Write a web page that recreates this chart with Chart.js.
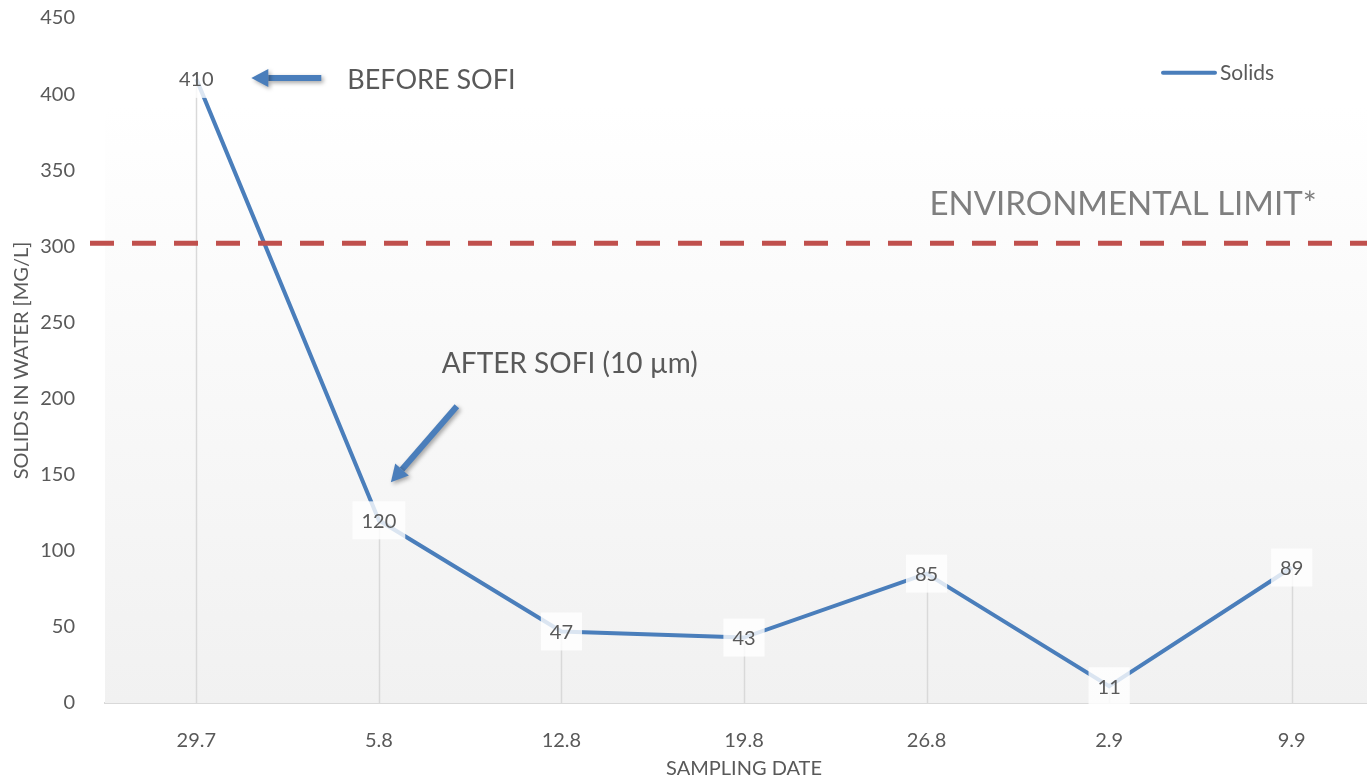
<!DOCTYPE html>
<html>
<head>
<meta charset="utf-8">
<script src="https://cdn.jsdelivr.net/npm/chart.js@4.4.1/dist/chart.umd.min.js"></script>
<style>
  html, body { margin: 0; padding: 0; background: #fff; overflow: hidden; }
  #wrap { width: 1383px; height: 781px; position: relative; }
</style>
</head>
<body>
<div id="wrap"><canvas id="solidsChart"></canvas></div>
<script>
// ── Data ────────────────────────────────────────────────────
const samplingDates = ['29.7', '5.8', '12.8', '19.8', '26.8', '2.9', '9.9'];
const solidsValues  = [410, 120, 47, 43, 85, 11, 89];
const yRange        = [0, 450];
const yStep         = 50;
const limitValue    = 302;

const FONT  = "Lato, 'Open Sans', sans-serif";
const BLUE  = '#4a7ebb';
const TEXT  = '#595959';

Chart.defaults.font.family = FONT;
Chart.defaults.color = TEXT;

// arrow with soft shadow
function drawArrow(ctx, x1, y1, x2, y2) {
  const ang = Math.atan2(y2 - y1, x2 - x1);
  const head = 17, half = 9;
  const bx = x2 - Math.cos(ang) * head, by = y2 - Math.sin(ang) * head;
  ctx.save();
  ctx.shadowColor = 'rgba(0,0,0,0.35)';
  ctx.shadowBlur = 4;
  ctx.shadowOffsetX = 2;
  ctx.shadowOffsetY = 2;
  ctx.strokeStyle = BLUE;
  ctx.fillStyle = BLUE;
  ctx.lineWidth = 6;
  ctx.beginPath();
  ctx.moveTo(x1, y1);
  ctx.lineTo(bx, by);
  ctx.stroke();
  ctx.beginPath();
  ctx.moveTo(x2, y2);
  ctx.lineTo(bx + Math.sin(ang) * half, by - Math.cos(ang) * half);
  ctx.lineTo(bx - Math.sin(ang) * half, by + Math.cos(ang) * half);
  ctx.closePath();
  ctx.fill();
  ctx.restore();
}

const decor = {
  id: 'decor',
  beforeDatasetsDraw(chart) {
    const { ctx, chartArea: a, scales: { x, y } } = chart;
    // plot background gradient
    const top = y.getPixelForValue(392);
    const g = ctx.createLinearGradient(0, top, 0, a.bottom);
    g.addColorStop(0, '#ffffff');
    g.addColorStop(1, '#f1f1f1');
    ctx.save();
    ctx.fillStyle = g;
    ctx.fillRect(a.left, top, chart.width - a.left, a.bottom - top);
    // drop lines
    ctx.strokeStyle = '#d9d9d9';
    ctx.lineWidth = 1.5;
    solidsValues.forEach((v, i) => {
      const px = Math.round(x.getPixelForValue(i)) + 0.5;
      ctx.beginPath();
      ctx.moveTo(px, y.getPixelForValue(v));
      ctx.lineTo(px, a.bottom);
      ctx.stroke();
    });
    ctx.restore();
  },
  afterDatasetsDraw(chart) {
    const { ctx, chartArea: a, scales: { x, y } } = chart;
    ctx.save();
    // environmental limit
    const ly = y.getPixelForValue(limitValue);
    ctx.strokeStyle = '#c0504d';
    ctx.lineWidth = 5;
    ctx.setLineDash([24, 18]);
    ctx.beginPath();
    ctx.moveTo(a.left - 15, ly);
    ctx.lineTo(chart.width, ly);
    ctx.stroke();
    ctx.setLineDash([]);
    ctx.fillStyle = '#7f7f7f';
    ctx.font = '33px ' + FONT;
    ctx.textAlign = 'right';
    ctx.textBaseline = 'middle';
    ctx.fillText('ENVIRONMENTAL LIMIT*', x.getPixelForValue(6) + 25, ly - 39);

    // data labels
    ctx.font = '20px ' + FONT;
    ctx.textAlign = 'center';
    solidsValues.forEach((v, i) => {
      const px = x.getPixelForValue(i), py = y.getPixelForValue(v);
      const txt = String(v);
      const w = ctx.measureText(txt).width + 18, h = 38;
      ctx.fillStyle = 'rgba(255,255,255,0.8)';
      ctx.fillRect(px - w / 2, py - h / 2, w, h);
      ctx.fillStyle = TEXT;
      ctx.fillText(txt, px, py + 1);
    });

    // annotations
    const p0x = x.getPixelForValue(0), p0y = y.getPixelForValue(solidsValues[0]);
    drawArrow(ctx, p0x + 125, p0y - 1, p0x + 55, p0y - 1);
    ctx.fillStyle = TEXT;
    ctx.font = '27px ' + FONT;
    ctx.textAlign = 'left';
    ctx.fillText('BEFORE SOFI', p0x + 151, p0y + 1);

    const p1x = x.getPixelForValue(1), p1y = y.getPixelForValue(solidsValues[1]);
    drawArrow(ctx, p1x + 78, p1y - 114, p1x + 12, p1y - 38);
    ctx.fillStyle = TEXT;
    ctx.font = '28px ' + FONT;
    ctx.fillText('AFTER SOFI (10 µm)', p1x + 63, p1y - 156);

    // legend
    const lgY = y.getPixelForValue(414);
    ctx.strokeStyle = BLUE;
    ctx.lineWidth = 4;
    ctx.lineCap = 'round';
    ctx.beginPath();
    ctx.moveTo(1163, lgY);
    ctx.lineTo(1215, lgY);
    ctx.stroke();
    ctx.fillStyle = TEXT;
    ctx.font = '21px ' + FONT;
    ctx.fillText(chart.data.datasets[0].label, 1220, lgY);
    ctx.restore();
  }
};

new Chart(document.getElementById('solidsChart'), {
  type: 'line',
  data: {
    labels: samplingDates,
    datasets: [{
      label: 'Solids',
      data: solidsValues,
      borderColor: BLUE,
      borderWidth: 4,
      pointRadius: 0,
      tension: 0,
      clip: false
    }]
  },
  options: {
    responsive: true,
    maintainAspectRatio: false,
    animation: false,
    layout: { padding: { top: 18, left: 0, right: 0, bottom: 0 } },
    plugins: { legend: { display: false }, tooltip: { enabled: false } },
    scales: {
      x: {
        offset: true,
        grid: { display: false },
        border: { display: true, color: '#d9d9d9', width: 2 },
        ticks: { font: { size: 20 }, padding: 18, color: TEXT },
        title: { display: true, text: 'SAMPLING DATE', font: { size: 20 }, color: TEXT, padding: { top: 0, bottom: 0 } },
        afterFit: s => { s.height = 78; s.paddingLeft = 0; s.paddingRight = 0; }
      },
      y: {
        min: yRange[0], max: yRange[1],
        grid: { display: false },
        border: { display: false },
        ticks: { stepSize: yStep, font: { size: 20 }, padding: 22, color: TEXT },
        title: { display: true, text: 'SOLIDS IN WATER [MG/L]', font: { size: 20 }, color: TEXT, padding: { top: 10, bottom: 0 } },
        afterFit: s => { s.width = 105; s.paddingTop = 0; s.paddingBottom = 0; }
      }
    }
  },
  plugins: [decor]
});
</script>
</body>
</html>
